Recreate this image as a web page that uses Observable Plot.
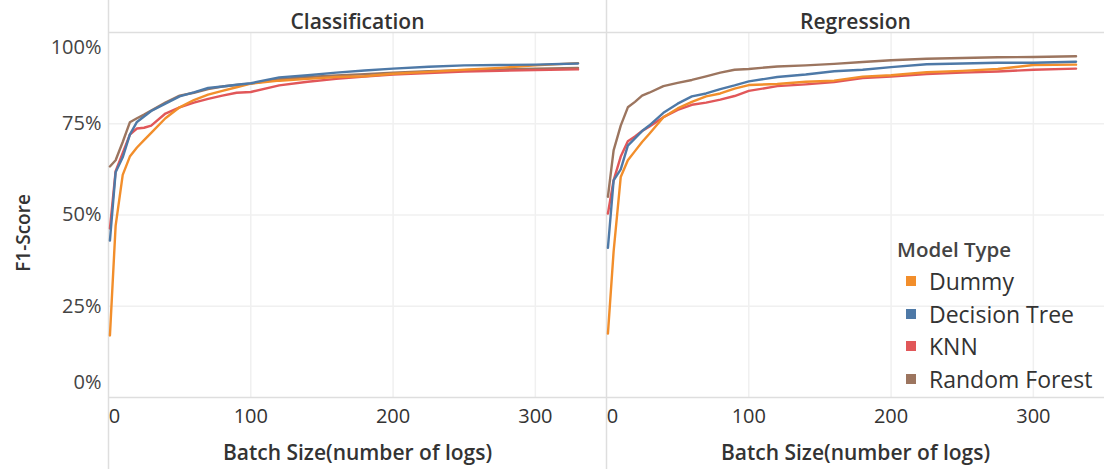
<!DOCTYPE html>
<html>
<head>
<meta charset="utf-8">
<script src="https://cdn.jsdelivr.net/npm/d3@7"></script>
<script src="https://cdn.jsdelivr.net/npm/@observablehq/plot@0.6"></script>
<style>
  body { margin: 0; background: #fff; }
  #wrap { position: relative; width: 1104px; height: 469px; font-family: "Open Sans", sans-serif; color: #333; }
  #wrap svg { font-family: "Open Sans", sans-serif; }
  g[aria-label="fx-axis tick label"] text { font-weight: 600; fill: #333; }
  g[aria-label="y-axis label"] text { font-weight: 600; font-size: 19px; fill: #333; }
  .legend { position: absolute; left: 897px; top: 235px; }
  .legend .title { font-size: 20.5px; font-weight: 600; color: #444; line-height: 28px; margin-bottom: 2px; }
  .legend .item { display: flex; align-items: center; height: 32.5px; font-size: 23px; color: #333; }
  .legend .sw { width: 10px; height: 10px; margin-left: 9px; margin-right: 13px; }
</style>
</head>
<body>
<div id="wrap"></div>
<script>
const tasks = ["Classification", "Regression"];
const models = ["Dummy", "Decision Tree", "KNN", "Random Forest"];
const colors = ["#f28e2b", "#4e79a7", "#e15759", "#9c755f"];
const batchSizes = [1, 5, 10, 15, 20, 25, 30, 40, 50, 60, 70, 80, 90, 100, 120, 140, 160, 180, 200, 225, 250, 275, 300, 330];

// F1 scores (%) — Classification
const clsDummy = [17, 47, 61, 66, 68.5, 70.5, 72.5, 76.5, 79.5, 81.5, 83, 84, 85, 86, 86.8, 87.3, 87.8, 88, 88.7, 89.2, 89.8, 90.3, 91, 91.6];
const clsTree  = [43, 61.7, 65.8, 72, 75.5, 77, 78.5, 80.5, 82.5, 83.6, 84.8, 85.2, 85.7, 86.1, 87.7, 88.3, 89, 89.6, 90.1, 90.6, 91, 91.1, 91.2, 91.5];
const clsKNN   = [46.3, 62, 67, 72, 73.7, 73.9, 74.5, 77.8, 79.5, 80.8, 81.8, 82.7, 83.5, 83.7, 85.5, 86.5, 87.3, 87.9, 88.5, 88.9, 89.3, 89.5, 89.7, 89.9];
const clsRF    = [63.3, 65, 70, 75.4, 76.5, 77.5, 78.6, 80.8, 82.7, 83.5, 84.5, 85.2, 85.6, 86, 87.2, 87.8, 88.2, 88.6, 89, 89.4, 89.7, 89.9, 90.1, 90.3];
// F1 scores (%) — Regression
const regDummy = [17.5, 40, 60.4, 65, 67.5, 70, 72.2, 76.8, 79.2, 81, 82.5, 83.3, 84.6, 85.6, 85.9, 86.5, 86.8, 87.9, 88.3, 89.1, 89.5, 90, 91.1, 91.2];
const regTree  = [41, 59.5, 62.5, 69, 71, 73, 74.5, 78, 80.5, 82.5, 83.3, 84.5, 85.5, 86.6, 87.8, 88.5, 89.4, 89.8, 90.5, 91.3, 91.5, 91.7, 91.7, 92];
const regKNN   = [50.4, 59.5, 66, 70.2, 71.5, 73, 74.2, 76.8, 78.8, 80.2, 80.8, 81.6, 82.6, 84, 85.3, 85.8, 86.4, 87.5, 87.9, 88.6, 89, 89.3, 89.8, 90.1];
const regRF    = [55, 67.7, 74.5, 79.5, 81, 82.7, 83.5, 85.3, 86.2, 87, 88, 89, 89.8, 90, 90.7, 91, 91.4, 91.9, 92.4, 92.8, 93, 93.2, 93.3, 93.5];

const yTicks = [0, 0.25, 0.5, 0.75, 1];
const xTicks = [0, 100, 200, 300];

const series = {
  Classification: [clsDummy, clsTree, clsKNN, clsRF],
  Regression: [regDummy, regTree, regKNN, regRF]
};
const rows = [];
for (const t of tasks) {
  models.forEach((m, i) => {
    series[t][i].forEach((v, j) => rows.push({task: t, model: m, key: t + "|" + m, x: batchSizes[j], y: v / 100}));
  });
}
const drawOrder = ["Random Forest", "KNN", "Dummy", "Decision Tree"];
rows.sort((a, b) => drawOrder.indexOf(a.model) - drawOrder.indexOf(b.model));

const border = "#dedede";
const grid = "#f0f0f0";

const chart = Plot.plot({
  width: 1104,
  height: 469,
  marginLeft: 107,
  marginRight: 0,
  marginTop: 32,
  marginBottom: 72,
  style: {fontFamily: "Open Sans, sans-serif", color: "#444"},
  fx: {domain: tasks, paddingInner: 0, paddingOuter: 0},
  x: {domain: [0, 350]},
  y: {domain: [0, 1]},
  color: {domain: models, range: colors},
  marks: [
    Plot.gridX({ticks: xTicks.slice(1), stroke: grid, strokeOpacity: 1, strokeWidth: 1.5}),
    Plot.gridY({ticks: yTicks.slice(1, 4), stroke: grid, strokeOpacity: 1, strokeWidth: 1.5}),
    Plot.ruleY([0, 1], {stroke: border, strokeWidth: 1.5}),
    Plot.ruleX([0], {y1: 1.09, y2: -0.2, stroke: border, strokeWidth: 1.5}),
    Plot.line(rows, {fx: "task", x: "x", y: "y", z: "key", stroke: "model", strokeWidth: 2.4, curve: "linear"}),
    Plot.axisFx({anchor: "top", label: null, tickSize: 0, tickPadding: 0, fontSize: 21, dy: -4}),
    Plot.axisX({ticks: xTicks.slice(1), tickSize: 0, tickPadding: 11, label: null, fontSize: 20, fill: "#333"}),
    Plot.axisX({ticks: [0], tickSize: 0, tickPadding: 11, label: null, fontSize: 20, fill: "#333", dx: 6}),
    Plot.axisY({ticks: yTicks.slice(1, 4), tickFormat: d3.format(".0%"), tickSize: 0, tickPadding: 7, fontSize: 20, fill: "#444",
      label: "F1-Score", labelAnchor: "center", labelOffset: 92, labelArrow: false}),
    Plot.axisY({ticks: [1], tickFormat: d3.format(".0%"), tickSize: 0, tickPadding: 7, fontSize: 20, fill: "#444", label: null, dy: 15}),
    Plot.axisY({ticks: [0], tickFormat: d3.format(".0%"), tickSize: 0, tickPadding: 7, fontSize: 20, fill: "#444", label: null, dy: -15}),
    Plot.text(tasks, {fx: d => d, text: () => "Batch Size(number of logs)", frameAnchor: "bottom", dy: 62, fontSize: 21, fontWeight: 600, fill: "#333"})
  ]
});

const wrap = document.getElementById("wrap");
wrap.appendChild(chart);

// shift the rotated y label down to where the reference has it
d3.select(chart).selectAll('g[aria-label="y-axis label"]').each(function() {
  const g = d3.select(this);
  g.attr("transform", (g.attr("transform") || "") + " translate(0,18)");
});

const legend = document.createElement("div");
legend.className = "legend";
const title = document.createElement("div");
title.className = "title";
title.textContent = "Model Type";
legend.appendChild(title);
models.forEach((m, i) => {
  const it = document.createElement("div");
  it.className = "item";
  const sw = document.createElement("span");
  sw.className = "sw";
  sw.style.background = colors[i];
  const tx = document.createElement("span");
  tx.textContent = m;
  it.appendChild(sw);
  it.appendChild(tx);
  legend.appendChild(it);
});
wrap.appendChild(legend);
</script>
</body>
</html>
